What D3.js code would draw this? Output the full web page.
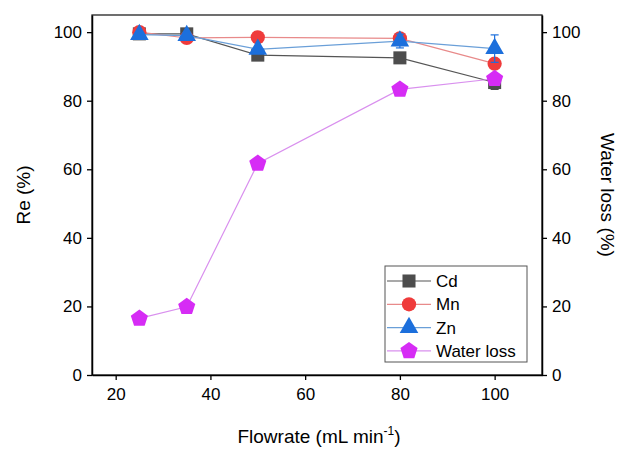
<!DOCTYPE html>
<html>
<head>
<meta charset="utf-8">
<script src="https://cdn.jsdelivr.net/npm/d3@7"></script>
<style>
  body { margin: 0; background: #fff; }
  svg { display: block; font-family: "Liberation Sans", Arial, sans-serif; }
</style>
</head>
<body>
<svg width="624" height="450"></svg>
<script>
const flowrate = [25, 35, 50, 80, 100];
const cd = [99.5, 99.5, 93.3, 92.5, 85.3];
const mn = [100, 98.3, 98.5, 98.2, 90.8];
const zn = [99.3, 99.0, 95.0, 97.4, 95.2];
const waterLoss = [16.5, 19.9, 61.7, 83.3, 86.4];
const cdErr = [0.3, 0.3, 0.5, 0.8, 2.0];
const mnErr = [0.3, 0.5, 0.3, 0.8, 1.0];
const znErr = [0.3, 0.5, 0.5, 2.0, 4.0];
const xTicks = [20, 40, 60, 80, 100];
const yTicks = [0, 20, 40, 60, 80, 100];

const margin = {left: 92, right: 82, top: 15, bottom: 75};
const width = 624, height = 450;

const svg = d3.select("svg");

const x = d3.scaleLinear().domain([15, 110]).range([margin.left, width - margin.right]);
const y = d3.scaleLinear().domain([0, 105]).range([height - margin.bottom, margin.top]);

// frame
svg.append("rect")
    .attr("x", x(15)).attr("y", y(105))
    .attr("width", x(110) - x(15)).attr("height", y(0) - y(105))
    .attr("fill", "none").attr("stroke", "#222").attr("stroke-width", 1.3);

function styleAxis(g) {
    g.select(".domain").attr("stroke", "#000").attr("stroke-width", 1.5);
    g.selectAll(".tick line").attr("stroke", "#000").attr("stroke-width", 1.3);
    g.selectAll(".tick text").attr("font-size", "17px").attr("fill", "#000")
        .attr("font-family", "Liberation Sans, Arial, sans-serif");
}

svg.append("g")
    .attr("transform", `translate(0,${y(0)})`)
    .call(d3.axisBottom(x).tickValues(xTicks).tickSize(5).tickPadding(8).tickSizeOuter(0))
    .call(styleAxis);

svg.append("g")
    .attr("transform", `translate(${x(15)},0)`)
    .call(d3.axisLeft(y).tickValues(yTicks).tickSize(5).tickPadding(5).tickSizeOuter(0))
    .call(styleAxis);

svg.append("g")
    .attr("transform", `translate(${x(110)},0)`)
    .call(d3.axisRight(y).tickValues(yTicks).tickSize(5).tickPadding(5).tickSizeOuter(0))
    .call(styleAxis);

// axis titles
const xTitle = svg.append("text")
    .attr("x", (x(15) + x(110)) / 2 + 2).attr("y", 443)
    .attr("text-anchor", "middle").attr("font-size", "19px").attr("fill", "#000");
xTitle.append("tspan").text("Flowrate (mL min");
xTitle.append("tspan").attr("dy", -8).attr("font-size", "12px").text("-1");
xTitle.append("tspan").attr("dy", 8).text(")");

svg.append("text")
    .attr("transform", `translate(30,${(y(0) + y(105)) / 2}) rotate(-90)`)
    .attr("text-anchor", "middle").attr("font-size", "19px").attr("fill", "#000")
    .text("Re (%)");

svg.append("text")
    .attr("transform", `translate(601,${(y(0) + y(105)) / 2}) rotate(90)`)
    .attr("text-anchor", "middle").attr("font-size", "19px").attr("fill", "#000")
    .text("Water loss (%)");

// marker shapes
function pentagon(r) {
    const pts = d3.range(5).map(i => {
        const a = -Math.PI / 2 + i * 2 * Math.PI / 5;
        return [r * Math.cos(a), r * Math.sin(a)];
    });
    return "M" + pts.map(p => p.join(",")).join("L") + "Z";
}

const series = [
    {name: "Cd", values: cd, err: cdErr, color: "#4d4d4d", line: "#555555",
        shape: d3.symbol(d3.symbolSquare, 170)()},
    {name: "Mn", values: mn, err: mnErr, color: "#ef3b3b", line: "#e88a8a",
        shape: d3.symbol(d3.symbolCircle, 160)()},
    {name: "Zn", values: zn, err: znErr, color: "#1c6fdc", line: "#6a9fd8",
        shape: d3.symbol(d3.symbolTriangle, 150)()},
    {name: "Water loss", values: waterLoss, err: null, color: "#d62cf5", line: "#d990ee",
        shape: pentagon(9)}
];

const line = d3.line().x(d => x(d[0])).y(d => y(d[1]));

series.forEach(s => {
    const pts = flowrate.map((f, i) => [f, s.values[i]]);
    const g = svg.append("g");
    g.append("path").attr("d", line(pts))
        .attr("fill", "none").attr("stroke", s.line).attr("stroke-width", 1.2);
    if (s.err) {
        const eb = g.append("g").attr("stroke", s.color).attr("stroke-width", 1.2);
        pts.forEach((p, i) => {
            const e = s.err[i];
            eb.append("line").attr("x1", x(p[0])).attr("x2", x(p[0]))
                .attr("y1", y(p[1] - e)).attr("y2", y(p[1] + e));
            [p[1] - e, p[1] + e].forEach(v => {
                eb.append("line").attr("x1", x(p[0]) - 4).attr("x2", x(p[0]) + 4)
                    .attr("y1", y(v)).attr("y2", y(v));
            });
        });
    }
    g.selectAll("path.m").data(pts).join("path")
        .attr("class", "m")
        .attr("d", s.shape)
        .attr("transform", d => `translate(${x(d[0])},${y(d[1])})`)
        .attr("fill", s.color);
});

// legend
const lg = svg.append("g").attr("transform", "translate(385,266)");
lg.append("rect").attr("width", 142).attr("height", 96)
    .attr("fill", "#fff").attr("stroke", "#555").attr("stroke-width", 1);
series.forEach((s, i) => {
    const cy = 15 + i * 23.3;
    lg.append("line").attr("x1", 2).attr("x2", 46).attr("y1", cy).attr("y2", cy)
        .attr("stroke", s.line).attr("stroke-width", 1.2);
    lg.append("path").attr("d", s.shape).attr("transform", `translate(24,${cy})`)
        .attr("fill", s.color);
    lg.append("text").attr("x", 51).attr("y", cy + 6)
        .attr("font-size", "17px").attr("fill", "#000").text(s.name);
});
</script>
</body>
</html>
